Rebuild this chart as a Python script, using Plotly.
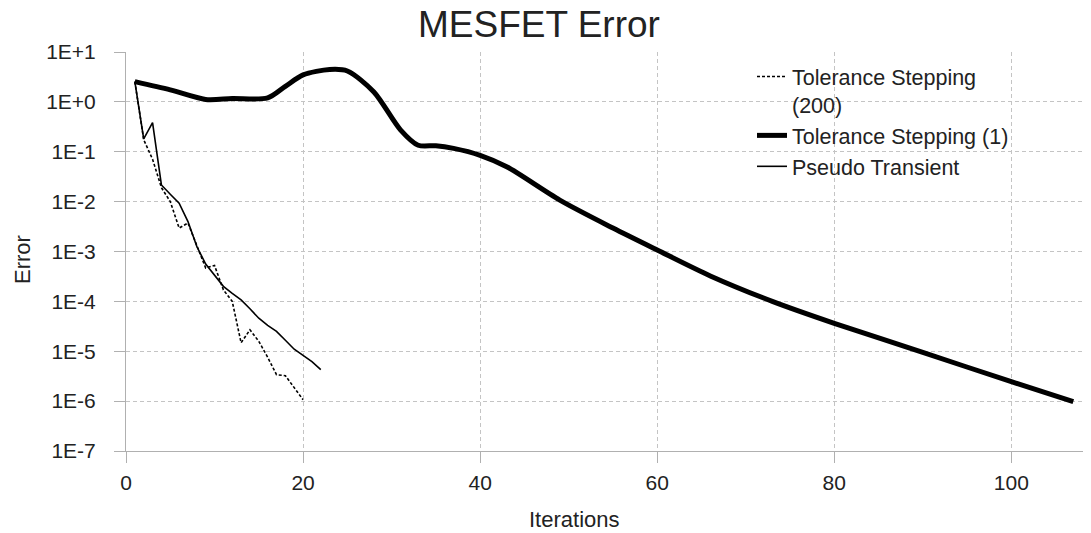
import plotly.graph_objects as go

# ---- data ----
ts200_x = list(range(1, 21))
ts200_y = [2.54, 0.174, 0.0708, 0.0191, 0.0100, 2.95e-3, 3.72e-3, 1.26e-3, 4.68e-4, 5.25e-4,
           1.70e-4, 1.0e-4, 1.48e-5, 2.69e-5, 1.58e-5, 7.6e-6, 3.39e-6, 3.24e-6, 1.82e-6, 1.07e-6]

ts1_x = [1, 5, 9, 12, 16, 18, 20, 23, 25, 28, 31, 33, 35, 37, 40, 43, 49, 55, 60, 66, 73, 80, 90, 100, 107]
ts1_y = [2.54, 1.74, 1.12, 1.17, 1.20, 2.05, 3.47, 4.47, 4.17, 1.58, 0.275, 0.135, 0.132, 0.117,
         0.085, 0.050, 0.0107, 2.95e-3, 1.07e-3, 3.24e-4, 1.0e-4, 3.63e-5, 9.5e-6, 2.45e-6, 9.8e-7]

pt_x = list(range(1, 23))
pt_y = [2.54, 0.181, 0.383, 0.0216, 0.0141, 9.3e-3, 3.98e-3, 1.26e-3, 5.6e-4, 3.4e-4, 2.0e-4,
        1.45e-4, 1.07e-4, 7.1e-5, 4.6e-5, 3.3e-5, 2.5e-5, 1.66e-5, 1.1e-5, 8.3e-6, 6.2e-6, 4.3e-6]

y_tickvals = [1e1, 1e0, 1e-1, 1e-2, 1e-3, 1e-4, 1e-5, 1e-6, 1e-7]
y_ticktext = ["1E+1", "1E+0", "1E-1", "1E-2", "1E-3", "1E-4", "1E-5", "1E-6", "1E-7"]
x_tickvals = [0, 20, 40, 60, 80, 100]

FONT = "Liberation Sans, Arial, sans-serif"
TXT = "#222222"
GRID = "#c4c4c4"
AXIS = "#b0b0b0"

fig = go.Figure()
fig.add_trace(go.Scatter(x=ts200_x, y=ts200_y, mode="lines", name="Tolerance Stepping<br>(200)",
                         line=dict(color="black", width=1.6, dash="3px,2px")))
fig.add_trace(go.Scatter(x=ts1_x, y=ts1_y, mode="lines", name="Tolerance Stepping (1)",
                         line=dict(color="black", width=5, shape="spline", smoothing=0.8)))
fig.add_trace(go.Scatter(x=pt_x, y=pt_y, mode="lines", name="Pseudo Transient",
                         line=dict(color="black", width=1.6)))

# page body has an 8px margin: figure starts at page (8, 8)
OX, OY = 8, 8
W, H = 1091 - OX, 533 - OY
L, T = 126 - OX, 52 - OY
R = 0
B = H - (451 - OY)
PW, PH = W - L - R, H - T - B

def px(xp):   # page x -> paper x
    return (xp - OX - L) / PW

def py(yp):   # page y -> paper y
    return (H - B - (yp - OY)) / PH

fig.update_layout(
    width=W, height=H,
    margin=dict(l=L, r=R, t=T, b=B, autoexpand=False),
    paper_bgcolor="white", plot_bgcolor="white",
    font=dict(family=FONT, color=TXT, size=21),
    title=dict(text="MESFET Error", x=(418 - OX) / W, xref="container",
               xanchor="left", y=1 - (24 - OY) / H, yanchor="middle",
               font=dict(size=37, family=FONT, color=TXT)),
    showlegend=True,
    legend=dict(x=px(752), y=py(56), xanchor="left", yanchor="top",
                bgcolor="rgba(0,0,0,0)", font=dict(size=21.5, family=FONT, color=TXT),
                valign="top", tracegroupgap=0),
)

fig.update_xaxes(
    range=[0, 109], tickvals=x_tickvals, ticktext=[str(v) for v in x_tickvals],
    showgrid=True, gridcolor=GRID, griddash="4px,3px", gridwidth=1,
    showline=True, linecolor=AXIS, linewidth=1,
    ticks="outside", ticklen=11, tickcolor=AXIS, tickwidth=1,
    tickfont=dict(size=21, family=FONT, color=TXT),
    ticklabelstandoff=2, automargin=False,
    zeroline=False,
)
fig.update_yaxes(
    type="log", range=[-7, 1], tickvals=y_tickvals, ticktext=y_ticktext,
    showgrid=True, gridcolor=GRID, griddash="4px,3px", gridwidth=1,
    showline=True, linecolor=AXIS, linewidth=1,
    ticks="outside", ticklen=11, tickcolor=AXIS, tickwidth=1,
    tickfont=dict(size=21, family=FONT, color=TXT),
    ticklabelstandoff=14, automargin=False,
    zeroline=False,
)

fig.add_annotation(text="Iterations", xref="paper", yref="paper",
                   x=px(574), y=py(519),
                   xanchor="center", yanchor="middle", showarrow=False,
                   font=dict(size=22, family=FONT, color=TXT))
fig.add_annotation(text="Error", xref="paper", yref="paper",
                   x=px(22), y=py(260),
                   xanchor="center", yanchor="middle", showarrow=False, textangle=-90,
                   font=dict(size=22, family=FONT, color=TXT))

fig.write_html("out.html")
